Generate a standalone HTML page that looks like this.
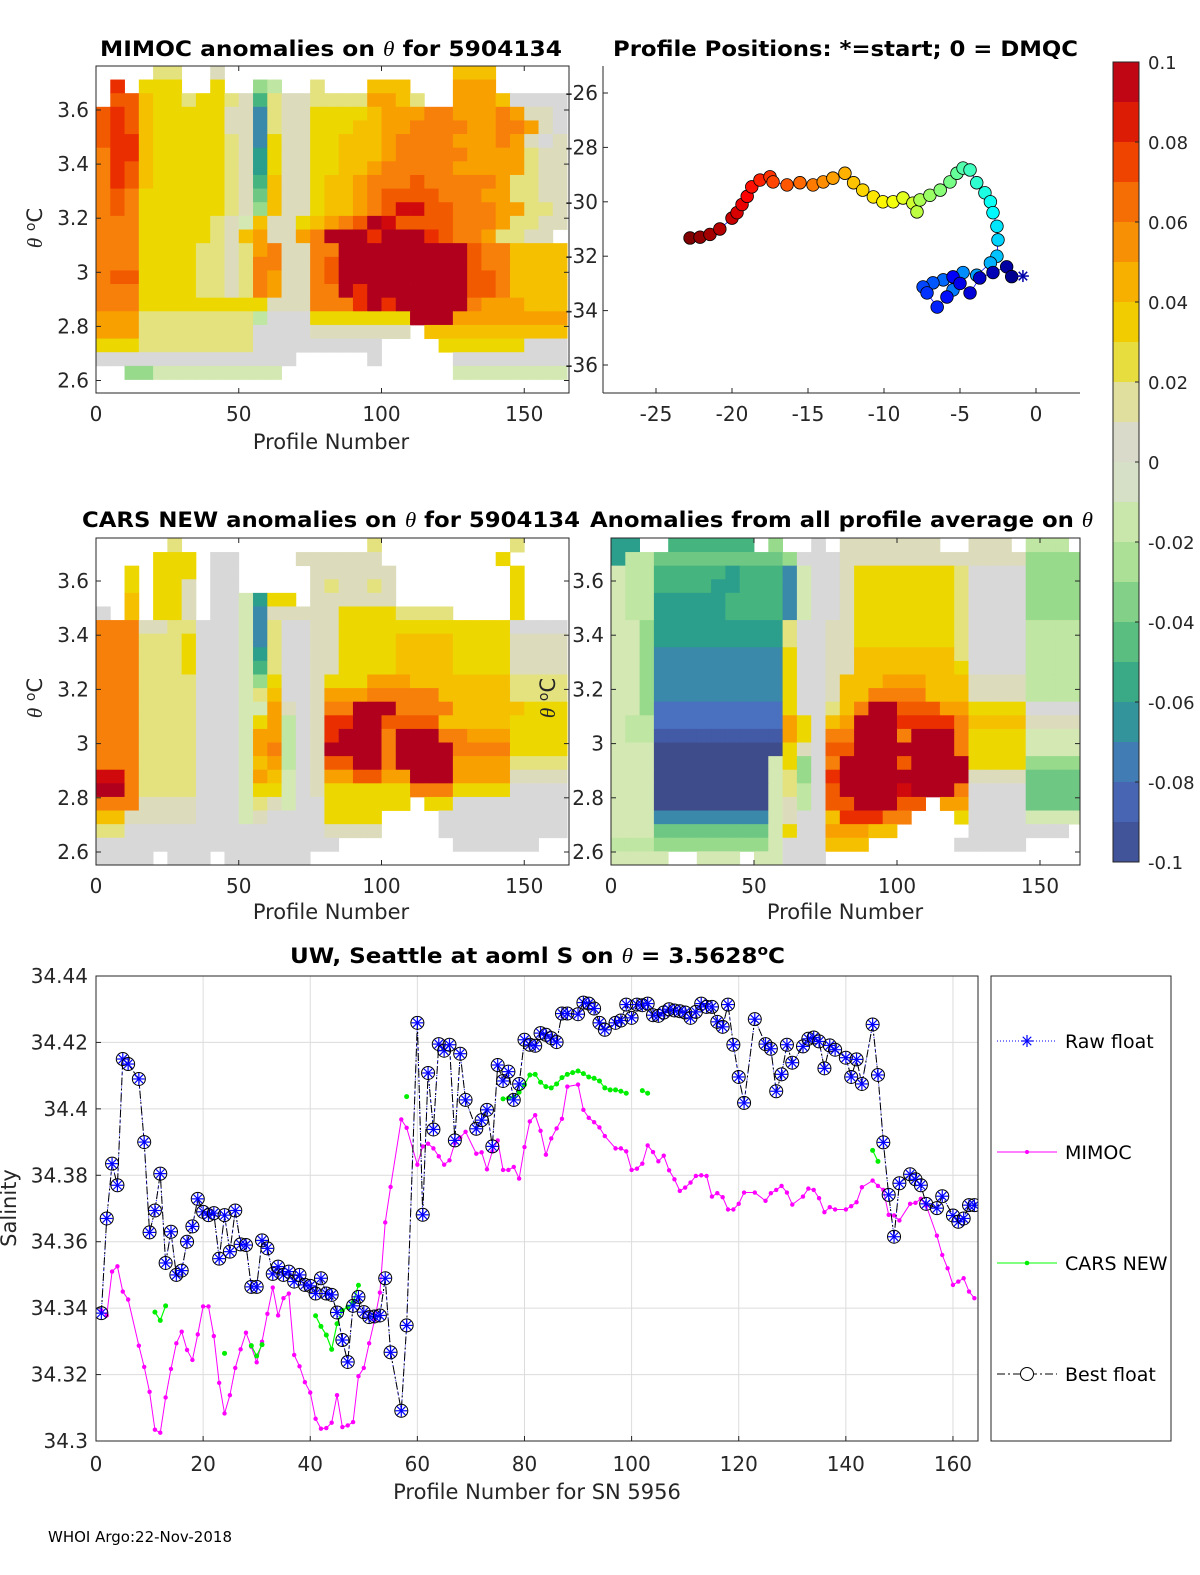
<!DOCTYPE html>
<html><head><meta charset="utf-8"><style>
html,body{margin:0;padding:0;background:#fff;}
svg{display:block;font-family:"DejaVu Sans","Liberation Sans",sans-serif;}
</style></head><body>
<svg id="fig" width="1200" height="1575" viewBox="0 0 1200 1575" xmlns="http://www.w3.org/2000/svg">
<defs>
<clipPath id="c1"><rect x="96" y="66" width="473" height="327"/></clipPath>
<clipPath id="c3"><rect x="96" y="538" width="473" height="327"/></clipPath>
<clipPath id="c4"><rect x="611" y="538" width="469" height="327"/></clipPath>
<clipPath id="cb"><rect x="96" y="976" width="882" height="465"/></clipPath>
</defs>
<g id="layer"></g>
<text x="100" y="56" font-size="21" font-weight="bold" textLength="462" lengthAdjust="spacingAndGlyphs">MIMOC anomalies on <tspan font-family="Liberation Serif" font-style="italic" font-weight="normal">θ</tspan>  for 5904134</text>
<text x="613" y="56" font-size="21" font-weight="bold" textLength="465" lengthAdjust="spacingAndGlyphs">Profile Positions: *=start; 0 = DMQC</text>
<text x="82" y="527" font-size="21" font-weight="bold" textLength="498" lengthAdjust="spacingAndGlyphs">CARS NEW anomalies on <tspan font-family="Liberation Serif" font-style="italic" font-weight="normal">θ</tspan> for 5904134</text>
<text x="590" y="527" font-size="21" font-weight="bold" textLength="503" lengthAdjust="spacingAndGlyphs">Anomalies from all profile average on <tspan font-family="Liberation Serif" font-style="italic" font-weight="normal">θ</tspan></text>
<text x="290" y="963" font-size="21" font-weight="bold" textLength="495" lengthAdjust="spacingAndGlyphs">UW, Seattle at aoml S on <tspan font-family="Liberation Serif" font-style="italic" font-weight="normal">θ</tspan> = 3.5628<tspan dy="-8" font-size="14">o</tspan><tspan dy="8">C</tspan></text>
<text x="331" y="449" text-anchor="middle" font-size="21" fill="#262626">Profile Number</text>
<text x="331" y="919" text-anchor="middle" font-size="21" fill="#262626">Profile Number</text>
<text x="845" y="919" text-anchor="middle" font-size="21" fill="#262626">Profile Number</text>
<text transform="translate(42,228) rotate(-90)" text-anchor="middle" font-size="21" fill="#262626"><tspan font-family="Liberation Serif" font-style="italic">θ</tspan> <tspan dy="-7" font-size="14">o</tspan><tspan dy="7">C</tspan></text>
<text transform="translate(42,698) rotate(-90)" text-anchor="middle" font-size="21" fill="#262626"><tspan font-family="Liberation Serif" font-style="italic">θ</tspan> <tspan dy="-7" font-size="14">o</tspan><tspan dy="7">C</tspan></text>
<text transform="translate(555,698) rotate(-90)" text-anchor="middle" font-size="21" fill="#262626"><tspan font-family="Liberation Serif" font-style="italic">θ</tspan> <tspan dy="-7" font-size="14">o</tspan><tspan dy="7">C</tspan></text>
<text transform="translate(16,1208) rotate(-90)" text-anchor="middle" font-size="21" fill="#262626">Salinity</text>
<text x="537" y="1499" text-anchor="middle" font-size="21" fill="#262626">Profile Number for SN 5956</text>
<text x="48" y="1542" font-size="15">WHOI Argo:22-Nov-2018</text>
</svg>
<script>
// ---------- heatmap data (run-length rows, 33 columns of 5 profiles; R=0.1, 0-9 = +0.0x, a-j = -0.0x, . = none)
const mimocRows = [
".*4 2*2 .*2 1 .*16 4*3 .*5",
". 8 . 3*3 .*2 3 .*2 c b .*2 2 .*3 4*3 .*3 5*3 .*5",
". 7*2 4 3*2 2 3*2 2 1 e 2 1*2 2*4 5*2 4 2 .*2 5*3 4 0*4",
"7 8 7 4 3*5 1 1 g 2 1 1 3*4 4 5*3 6*2 5*3 6 5 1 1 0 1",
"7 8 7 4 3*5 1 1 g 2 1 1 3*3 4*2 5*2 6*4 5*2 6*2 5 1 0 1 1",
"7 8 8 4 3*5 2 1 g 3 1 1 3*2 4*3 5 6*4 5*3 6 5 1 0 1 1",
"6 8 8 4 3*5 2 1 f 3 1 1 3*2 4*3 5 6*5 5*3 5 2 1 1 1",
"6 8 7 4 3*5 2 1 f 3 1 1 3*2 4*2 5 6*5 5*4 5 2 1 1 1",
"6 8 7 4 3*5 2 1 e 4 1 1 3 4*2 5 6*3 7 6*5 5 2 2 1 1",
"6 7 6 3 3*5 2 1 d 4 1 1 3 4*2 5 6 7*4 6*3 5*2 2 2 1 1",
"6 7 6 3 3*5 2 1 c 4 1 1 3 4*2 5 6 7 9*2 7*2 6*3 5*2 2 2 1 1",
"6*3 3*5 2 1 a 4 1 1 3 4 5 6 7 R 9 7*4 6*3 5 2 2 1 1",
"6*3 3*5 2 1 4 5 1 1 5 6 R*3 8 R*3 8 7 6*2 5 2 2 1 1",
"6*3 3*4 2*2 1 2 5 6 1 1 6 6 R*9 7 6*2 4*4",
"6*3 3*4 2*2 1 2 6 6 1 1 6 7 R*9 7 6*2 4*4",
"6 7 7 3*4 2*2 1 2 6 5 1 1 6 7 R*9 7*2 6 4*4",
"6*3 3*4 2*2 1 2 6 5 1 1 6 6 R 8 R*7 7*2 6 4*4",
"6*3 3*8 3 1*3 6 6 6 8 R 8 R*5 6 5*2 5 4*3",
"5*3 2*8 b 0*3 3*7 R*3 5*8",
"5*3 2*8 0*4 1*7 . 4*10",
"3*3 2*8 0*3 0*6 .*4 3*6 0*3",
"0 0*13 .*5 0 .*5 0*8",
". . c c a*7 a a . .*11 a*8",
".*33"];
const carsRows = [
".*5 2 .*13 2 .*9 2 .*3",
".*4 3*3 . 0*2 .*4 1*6 .*8 3 .*3",
".*2 3 . 3*3 . 0*2 .*5 1*6 .*8 3 .*3",
".*2 3 . 3*2 1 . 0*2 .*5 1 2 1*2 2 1 .*8 3 .*3",
".*2 4 . 3*2 1 . 0*2 a f 3 3 . 1*6 .*8 3 .*3",
"0 . 4 . 3*2 1 . 0*2 a g 1 1 1 1 1 3*4 2*4 .*4 3 .*3",
"6*3 1 1 2 2 0*3 a g 2 0 0 1 1 3*8 3*4 0*4",
"6*3 2*3 3 0*3 a g 2 0 0 1 1 3*4 4*4 3*4 1*4",
"6*3 2*3 3 0*3 a f 2 0 0 1 1 3*4 4*4 3*4 1*4",
"6*3 2*3 3 0*3 a e 2 0 0 1 1 3*4 4*4 3*4 1*4",
"6*3 2*3 2 0*3 a c 3 0 0 1 3*3 5*3 4*7 2*4",
"6*3 2*3 2 0*3 a 2 4 0 0 1 5*3 6*5 4*5 2*4",
"6*3 2*3 2 0*3 a a 5 1 0 1 6*2 R*3 6*4 4*5 3*4",
"6*3 2*3 2 0*3 a 3 5 b 0 1 8*2 R*2 7*4 4*5 3*4",
"6*3 2*3 2 0*3 a 5 5 b 0 1 8 R*3 6 R*3 6*2 5*3 3*4",
"6*3 2*3 2 0*3 a 5 6 b 0 1 R*4 6 R*4 6*4 3*4",
"6*3 2*3 2 0*3 a 4 5 b 0 1 7*2 R*2 6 R*4 5*4 2*4",
"9*2 6 2*3 2 0*3 a 5 4 a 0 1 5*2 7*2 5*2 R*3 5*4 1*4",
"R*2 6 2*3 2 0*3 a 3 3 a 0 1 3*3 3*3 6*3 3*4 0*4",
"6*3 1*3 1 0*3 a 2 1 a 0 0 3*6 . 3*2 0*8",
"4*2 1 1*3 1 0*3 a 1 0 0 0 0 3*4 .*4 0*9",
"2*2 0*14 1*4 .*4 0*9",
"0*17 .*8 0*6 .*2",
"0*4 . 0*3 . 0*6 .*18"];
const avgRows = [
"f f .*2 e*6 . c .*2 0 . 1*7 .*2 1*3 . b*3 .",
"f b b d*9 c 0 0 0 1*8 1*5 c*4",
"a b b e*5 f e*3 g a 0 0 1 3*7 2 0*4 c*4",
"a b b e*4 f*2 e*3 g a 0 0 1 3*7 2 0*4 c*4",
"a b b f*5 e*4 g a 0 0 1 3*7 2 0*4 c*4",
"a b b f*5 e*4 g a 0 0 1 3*7 2 0*4 c*4",
"a a c f*9 2 0 0 1 1 3*7 2 0*4 b*4",
"a a c f*9 2 0 0 1 1 3*7 2 0*4 b*4",
"a a c g*9 3 0 0 1 1 4*7 2 0*4 b*4",
"a a c g*9 3 0 0 1 1 4*7 3 0*4 b*4",
"a a c g*9 3 0 0 1 4*3 5*3 4*3 1*4 b*4",
"a a c g*9 3 0 0 1 4*2 6*4 4*3 1*4 b*4",
"a a c h*9 3 0 0 2 4 6 R*2 7*3 5*2 3*4 0*4",
"a b b h*9 5 3 0 4 5 R*3 8*4 6 4*4 1*4",
"a b b i*9 5 3 0 6 6 R*3 6 R*3 6 3*4 a*4",
"a*3 j*9 3 1 0 7 7 R*7 6 3*4 a*4",
"a*3 j*8 a 3 c 0 6 R*4 7 R*4 3*4 c*4",
"a*3 j*8 a 2 c 0 8 R*9 1*4 d*4",
"a*3 j*8 a 2 b 0 7 R*4 9 R*3 6 0*4 d*4",
"a*3 j*8 a 1 b 0 7 7 R*3 7*2 . 5*2 0*4 d*4",
"a*3 g*8 a 1 0 0 4 8*3 6*2 .*3 3 0*4 a*4",
"a*3 d*8 a 3 0 0 5*3 4*2 .*5 0*4 0*3 .",
"b*3 c*8 a 0 0 0 4*3 .*6 0*5 .*4",
"a*2 a*2 .*2 a*3 . a*2 0*3 .*18"];

// ---------- colorbar ticks
const cbTicks = [0.1,0.08,0.06,0.04,0.02,0,-0.02,-0.04,-0.06,-0.08,-0.1];
const cbColors = ["#b0001e","#d00a0c","#ea2e00","#f25a00","#f7800a","#f8a000","#f5c000","#ecd800","#e4e27e","#dcdcbc","#d8d8d8","#d4e8b4","#bfe6a2","#98da8c","#6ec884","#46b47e","#2c9f8c","#3a88aa","#4a70c0","#435aa6","#3e4c8c"];

// ---------- map track (start -> end)
const trackLon = [-0.86,-1.6,-1.93,-2.83,-3.7,-4.34,-5.0,-5.46,-5.86,-6.5,-7.17,-7.43,-6.78,-6.1,-5.46,-4.8,-3.9,-3.0,-2.57,-2.5,-2.57,-2.83,-3.0,-3.36,-3.9,-4.34,-4.8,-5.2,-5.66,-6.3,-6.98,-7.63,-7.83,-8.1,-8.75,-9.4,-10.07,-10.7,-11.4,-12.0,-12.57,-13.36,-14.0,-14.67,-15.53,-16.38,-17.3,-17.5,-18.16,-18.7,-19.0,-19.34,-19.67,-20.0,-20.8,-21.45,-22.1,-22.76];
const trackLat = [-32.73,-32.75,-32.39,-32.6,-32.8,-33.35,-33.0,-32.76,-33.5,-33.87,-33.35,-33.13,-32.98,-32.87,-33.24,-32.6,-32.7,-32.25,-32.0,-31.4,-30.9,-30.4,-30.0,-29.67,-29.3,-28.83,-28.76,-28.95,-29.27,-29.57,-29.76,-29.93,-30.37,-30.05,-29.86,-30.0,-30.0,-29.82,-29.57,-29.3,-28.95,-29.13,-29.27,-29.38,-29.3,-29.38,-29.27,-29.08,-29.2,-29.45,-29.8,-30.1,-30.4,-30.6,-31.0,-31.2,-31.3,-31.33];

// ---------- salinity series
const bestProf = [1,2,3,4,5,6,8,9,10,11,12,13,14,15,16,17,18,19,20,21,22,23,24,25,26,27,28,29,30,31,32,33,34,35,36,37,38,39,40,41,42,43,44,45,46,47,48,49,50,51,52,53,54,55,57,58,60,61,62,63,64,65,66,67,68,69,71,72,73,74,75,76,77,78,79,80,81,82,83,84,85,86,87,88,90,91,92,93,94,95,97,98,99,100,101,102,103,104,105,106,107,108,109,110,111,112,113,114,115,116,117,118,119,120,121,123,125,126,127,128,129,130,132,133,134,135,136,137,138,140,141,142,143,145,146,147,148,149,150,152,153,154,155,157,158,160,161,162,163,164];
const bestSal = [34.3385,34.367,34.3835,34.377,34.415,34.4135,34.409,34.39,34.3628,34.3694,34.3805,34.3536,34.363,34.35,34.3513,34.36,34.3646,34.3729,34.369,34.368,34.3686,34.3549,34.368,34.357,34.3694,34.3592,34.359,34.3464,34.3464,34.3604,34.358,34.3503,34.3525,34.350,34.351,34.348,34.35,34.347,34.3467,34.3444,34.349,34.3444,34.344,34.3387,34.3304,34.3238,34.3407,34.3434,34.3388,34.3373,34.3375,34.3378,34.349,34.3267,34.3091,34.3348,34.4259,34.3681,34.4108,34.3938,34.4195,34.4175,34.4193,34.3905,34.4166,34.4027,34.394,34.3966,34.3997,34.3887,34.4132,34.4084,34.4112,34.4027,34.4075,34.4208,34.4193,34.419,34.4228,34.4223,34.4213,34.4201,34.4287,34.4287,34.4285,34.432,34.4317,34.4302,34.4259,34.4238,34.4259,34.4266,34.4314,34.4274,34.4314,34.4312,34.4317,34.4282,34.428,34.429,34.43,34.4296,34.4294,34.429,34.4274,34.4292,34.4317,34.4307,34.4307,34.4262,34.4247,34.4314,34.4193,34.4096,34.4018,34.427,34.4195,34.4181,34.4053,34.4104,34.4193,34.4139,34.4188,34.4211,34.4215,34.4203,34.4122,34.4191,34.4178,34.4154,34.4096,34.4149,34.4075,34.4254,34.4102,34.3899,34.3741,34.3615,34.3776,34.3803,34.3788,34.377,34.3714,34.3701,34.3737,34.3679,34.366,34.367,34.371,34.371];
const mimocProf = [1,2,3,4,5,6,8,9,10,11,12,13,14,15,16,17,18,19,20,21,22,23,24,25,26,27,28,29,30,31,32,33,34,35,36,37,38,39,40,41,42,43,44,45,46,47,48,49,50,51,52,53,54,55,57,58,60,61,62,63,64,65,66,67,68,69,71,72,73,74,75,76,77,78,79,80,81,82,83,84,85,86,87,88,90,91,92,93,94,95,97,98,99,100,101,102,103,104,105,106,107,108,109,110,111,112,113,114,115,116,117,118,119,120,121,123,125,126,127,128,129,130,132,133,134,135,136,137,138,140,141,142,143,145,146,147,148,149,150,152,153,154,155,157,158,159,160,161,162,163,164];
const mimocSal = [34.3393,34.3378,34.351,34.3526,34.345,34.3426,34.3287,34.3223,34.3148,34.3034,34.3025,34.3131,34.3217,34.3294,34.3329,34.3274,34.3244,34.3321,34.3405,34.3405,34.3316,34.3175,34.3083,34.3138,34.322,34.3276,34.3326,34.3284,34.3237,34.3299,34.3383,34.3462,34.3378,34.343,34.3444,34.3259,34.3225,34.3177,34.3146,34.3067,34.3037,34.3039,34.3055,34.3138,34.3042,34.3047,34.3057,34.3195,34.322,34.3294,34.3363,34.3447,34.3658,34.3765,34.3968,34.3943,34.3832,34.3887,34.3895,34.3881,34.3857,34.3832,34.3845,34.3897,34.3914,34.3931,34.3865,34.3869,34.3818,34.3872,34.3905,34.3816,34.3816,34.3825,34.379,34.3885,34.3962,34.3981,34.3934,34.3862,34.3911,34.3941,34.397,34.4067,34.4073,34.3997,34.3973,34.396,34.3944,34.3918,34.3881,34.3881,34.3872,34.3816,34.382,34.3835,34.389,34.387,34.3842,34.3859,34.3815,34.3788,34.3753,34.3763,34.3778,34.3798,34.38,34.3798,34.3736,34.3746,34.3734,34.3697,34.3697,34.3714,34.3748,34.3748,34.3723,34.3746,34.3756,34.3768,34.3748,34.3712,34.3736,34.376,34.3756,34.3731,34.3689,34.3704,34.3697,34.3697,34.3707,34.3719,34.3764,34.3784,34.3768,34.3756,34.3681,34.3679,34.3664,34.3714,34.3717,34.3729,34.3709,34.3618,34.356,34.352,34.347,34.348,34.349,34.345,34.343];
const carsProf = [11,12,13,null,24,null,29,30,31,null,41,42,43,44,45,46,47,48,49,null,58,null,76,77,78,79,80,81,82,83,84,85,86,87,88,89,90,91,92,93,94,95,96,97,98,99,null,102,103,null,145,146];
const carsSal = [34.3388,34.3363,34.3407,null,34.3264,null,34.3287,34.3256,34.329,null,34.3377,34.3345,34.3319,34.3276,34.3353,34.3393,34.3403,34.3417,34.3469,null,34.4037,null,34.403,34.4032,34.4035,34.405,34.4073,34.4102,34.4104,34.408,34.4067,34.4063,34.4075,34.4094,34.4104,34.4109,34.4114,34.4106,34.4096,34.4092,34.4084,34.4063,34.4057,34.4057,34.4053,34.4047,null,34.4055,34.4047,null,34.3875,34.3842];
const salTicks = [34.44,34.42,34.4,34.38,34.36,34.34,34.32,34.3];
const profTicks = [0,20,40,60,80,100,120,140,160];
const thetaTicks = [3.6,3.4,3.2,3,2.8,2.6];
const heatXTicks = [0,50,100,150];
const lonTicks = [-25,-20,-15,-10,-5,0];
const latTicks = [-26,-28,-30,-32,-34,-36];

const NS="http://www.w3.org/2000/svg";
const layer=document.getElementById('layer');
function mk(tag,attrs,parent){const e=document.createElementNS(NS,tag);for(const k in attrs)e.setAttribute(k,attrs[k]);(parent||layer).appendChild(e);return e;}
function parseRow(s){const out=[];s.trim().split(/\s+/).forEach(t=>{const p=t.split('*');const n=p[1]?+p[1]:1;for(let i=0;i<n;i++)out.push(p[0]);});while(out.length<33)out.push('.');return out.slice(0,33);}
function code2val(c){if(c==='.')return null;if(c==='R')return 0.1;if(c>='0'&&c<='9')return +c/100;return -(c.charCodeAt(0)-96)/100;}
function hex2rgb(h){return [parseInt(h.substr(1,2),16),parseInt(h.substr(3,2),16),parseInt(h.substr(5,2),16)];}
function cmap(v){v=Math.max(-0.1,Math.min(0.1,v));const t=(0.1-v)/0.01;const i=Math.min(19,Math.floor(t));const f=t-i;const a=hex2rgb(cbColors[i]),b=hex2rgb(cbColors[i+1]);return 'rgb('+a.map((x,k)=>Math.round(x+(b[k]-x)*f)).join(',')+')';}

// ---------- heatmap panels
function heatPanel(name,rows,box,clip,xs,ys,thTop,dTh){
  const g=mk('g',{'clip-path':'url(#'+clip+')'});
  
  
  rows.forEach((r,ri)=>{
    parseRow(r).forEach((c,ci)=>{
      const v=code2val(c); if(v===null)return;
      const x1=xs(ci*5),x2=xs(ci*5+5),y1=ys(thTop-ri*dTh),y2=ys(thTop-(ri+1)*dTh);
      const rc=mk('rect',{x:x1,y:y1,width:x2-x1+0.4,height:y2-y1+0.4,fill:cmap(v)},g);
      
      
    });
  });
  const fr=mk('rect',{x:box[0],y:box[1],width:box[2]-box[0],height:box[3]-box[1],fill:'none',stroke:'#262626','stroke-width':1});
  
  
  heatXTicks.forEach(t=>{
    const x=xs(t);
    mk('line',{x1:x,x2:x,y1:box[3],y2:box[3]-5,stroke:'#262626'});
    mk('line',{x1:x,x2:x,y1:box[1],y2:box[1]+5,stroke:'#262626'});
    const tx=mk('text',{x:x,y:box[3]+28,'text-anchor':'middle','font-size':20,fill:'#262626'});
    tx.textContent=t;
    
    
  });
  thetaTicks.forEach(t=>{
    const y=ys(t);
    mk('line',{x1:box[0],x2:box[0]+5,y1:y,y2:y,stroke:'#262626'});
    mk('line',{x1:box[2],x2:box[2]-5,y1:y,y2:y,stroke:'#262626'});
    const tx=mk('text',{x:box[0]-7,y:y+7,'text-anchor':'end','font-size':20,fill:'#262626'});
    tx.textContent=String(t);
    
    
  });
}
const ys1=t=>110+(3.6-t)*270.5, ys3=t=>581+(3.6-t)*271;
const xsL=p=>96+p*2.855, xsR=p=>611+p*2.86;
heatPanel('mimoc-panel',mimocRows,[96,66,569,393],'c1',xsL,ys1,3.763,0.0504);
heatPanel('cars-panel',carsRows,[96,538,569,865],'c3',xsL,ys3,3.757,0.0502);
heatPanel('avg-panel',avgRows,[611,538,1080,865],'c4',xsR,ys3,3.757,0.0502);

// ---------- map panel
const lonX=l=>656+(l+25)*15.2, latY=a=>93-(a+26)*27.2;
mk('line',{x1:603,x2:603,y1:66,y2:393,stroke:'#262626'});
mk('line',{x1:603,x2:1080,y1:393,y2:393,stroke:'#262626'});
lonTicks.forEach(t=>{const x=lonX(t);mk('line',{x1:x,x2:x,y1:393,y2:388,stroke:'#262626'});
  const tx=mk('text',{x:x,y:421,'text-anchor':'middle','font-size':20,fill:'#262626'});tx.textContent=t;
  
  });
latTicks.forEach(t=>{const y=latY(t);mk('line',{x1:603,x2:608,y1:y,y2:y,stroke:'#262626'});
  const tx=mk('text',{x:598,y:y+7,'text-anchor':'end','font-size':20,fill:'#262626'});tx.textContent=t;
  
  });
mk('polyline',{points:trackLon.map((l,i)=>lonX(l)+','+latY(trackLat[i])).join(' '),fill:'none',stroke:'#0000ff','stroke-width':0.8});
function jet(t){const r=Math.max(0,Math.min(1,1.5-Math.abs(4*t-3))),g=Math.max(0,Math.min(1,1.5-Math.abs(4*t-2))),b=Math.max(0,Math.min(1,1.5-Math.abs(4*t-1)));return 'rgb('+[r,g,b].map(v=>Math.round(v*255)).join(',')+')';}
for(let i=trackLon.length-1;i>=1;i--){
  const c=mk('circle',{cx:lonX(trackLon[i]),cy:latY(trackLat[i]),r:6.3,fill:jet(i/(trackLon.length-1)),stroke:'#000','stroke-width':0.8});
  
  
}
(function(){const x=lonX(trackLon[0]),y=latY(trackLat[0]);const g=mk('g',{stroke:'#0000aa','stroke-width':1.5});


for(let a=0;a<4;a++){const an=a*Math.PI/4;mk('line',{x1:x-6*Math.cos(an),y1:y-6*Math.sin(an),x2:x+6*Math.cos(an),y2:y+6*Math.sin(an)},g);}})();

// ---------- colorbar
(function(){const x=1113,w=26,y0=62,h=800;
for(let i=0;i<20;i++){const v=0.1-(i+0.5)*0.01;const r=mk('rect',{x:x,y:y0+i*h/20,width:w,height:h/20+0.5,fill:cmap(v)});

}
const f=mk('rect',{x:x,y:y0,width:w,height:h,fill:'none',stroke:'#262626'});


cbTicks.forEach(t=>{const y=y0+(0.1-t)/0.2*h;mk('line',{x1:x+w,x2:x+w-4,y1:y,y2:y,stroke:'#262626'});
const tx=mk('text',{x:1148,y:y+7,'font-size':18,fill:'#262626'});tx.textContent=String(t);

});})();

// ---------- salinity chart
const sx=p=>96+p*5.356, sy=s=>976+(34.44-s)/0.14*465;
profTicks.forEach(t=>{const x=sx(t);mk('line',{x1:x,x2:x,y1:976,y2:1441,stroke:'#dcdcdc'});
mk('line',{x1:x,x2:x,y1:1441,y2:1436,stroke:'#262626'});
const tx=mk('text',{x:x,y:1471,'text-anchor':'middle','font-size':20,fill:'#262626'});tx.textContent=t;

});
salTicks.forEach(t=>{const y=sy(t);mk('line',{x1:96,x2:978,y1:y,y2:y,stroke:'#dcdcdc'});
mk('line',{x1:96,x2:101,y1:y,y2:y,stroke:'#262626'});
const tx=mk('text',{x:88,y:y+7,'text-anchor':'end','font-size':20,fill:'#262626'});tx.textContent=String(t);

});
const sg=mk('g',{'clip-path':'url(#cb)'});


function segs(P,S){const out=[];let cur=[];P.forEach((p,i)=>{if(p===null){if(cur.length)out.push(cur);cur=[];}else cur.push([sx(p),sy(S[i])]);});if(cur.length)out.push(cur);return out;}
const mL=mk('polyline',{points:mimocProf.map((p,i)=>sx(p)+','+sy(mimocSal[i])).join(' '),fill:'none',stroke:'#ff00ff','stroke-width':1},sg);


mimocProf.forEach((p,i)=>{const c=mk('circle',{cx:sx(p),cy:sy(mimocSal[i]),r:2.2,fill:'#ff00ff'},sg);

});
segs(carsProf,carsSal).forEach(sgm=>{const l=mk('polyline',{points:sgm.map(q=>q.join(',')).join(' '),fill:'none',stroke:'#00ff00','stroke-width':1.2},sg);


sgm.forEach(q=>{const c=mk('circle',{cx:q[0],cy:q[1],r:2.5,fill:'#00ee00'},sg);

});});
const ptsB=bestProf.map((p,i)=>sx(p)+','+sy(bestSal[i])).join(' ');
const rL=mk('polyline',{points:ptsB,fill:'none',stroke:'#0000ff','stroke-width':1,'stroke-dasharray':'1,2'},sg);


const bL=mk('polyline',{points:ptsB,fill:'none',stroke:'#000','stroke-width':1,'stroke-dasharray':'8,3,2,3'},sg);


function star(x,y,g,col){for(let a=0;a<4;a++){const an=a*Math.PI/4;mk('line',{x1:x-6*Math.cos(an),y1:y-6*Math.sin(an),x2:x+6*Math.cos(an),y2:y+6*Math.sin(an),stroke:col,'stroke-width':1.2},g);}}
bestProf.forEach((p,i)=>{const x=sx(p),y=sy(bestSal[i]);
const c=mk('circle',{cx:x,cy:y,r:6.5,fill:'none',stroke:'#000','stroke-width':1},sg);


const g=mk('g',{},sg);


star(x,y,g,'#0000ff');});
const sb=mk('rect',{x:96,y:976,width:882,height:465,fill:'none',stroke:'#262626'});



// ---------- legend
(function(){const lg=mk('g',{});


mk('rect',{x:991,y:976,width:180,height:465,fill:'#fff',stroke:'#262626'},lg);
const items=[['Raw float',1041],['MIMOC',1152],['CARS NEW',1263],['Best float',1374]];
items.forEach((it,k)=>{const y=it[1];const e=mk('g',{},lg);


if(k===0){mk('line',{x1:997,x2:1057,y1:y,y2:y,stroke:'#0000ff','stroke-dasharray':'1,2'},e);star(1027,y,e,'#0000ff');}
if(k===1){mk('line',{x1:997,x2:1057,y1:y,y2:y,stroke:'#ff00ff'},e);mk('circle',{cx:1027,cy:y,r:2,fill:'#ff00ff'},e);}
if(k===2){mk('line',{x1:997,x2:1057,y1:y,y2:y,stroke:'#00ff00'},e);mk('circle',{cx:1027,cy:y,r:2.3,fill:'#00ee00'},e);}
if(k===3){mk('line',{x1:997,x2:1057,y1:y,y2:y,stroke:'#000','stroke-dasharray':'8,3,2,3'},e);mk('circle',{cx:1027,cy:y,r:6.5,fill:'#fff',stroke:'#000'},e);}
const t=mk('text',{x:1065,y:y+7,'font-size':19,fill:'#000'},e);t.textContent=it[0];});})();
</script>
</body></html>
